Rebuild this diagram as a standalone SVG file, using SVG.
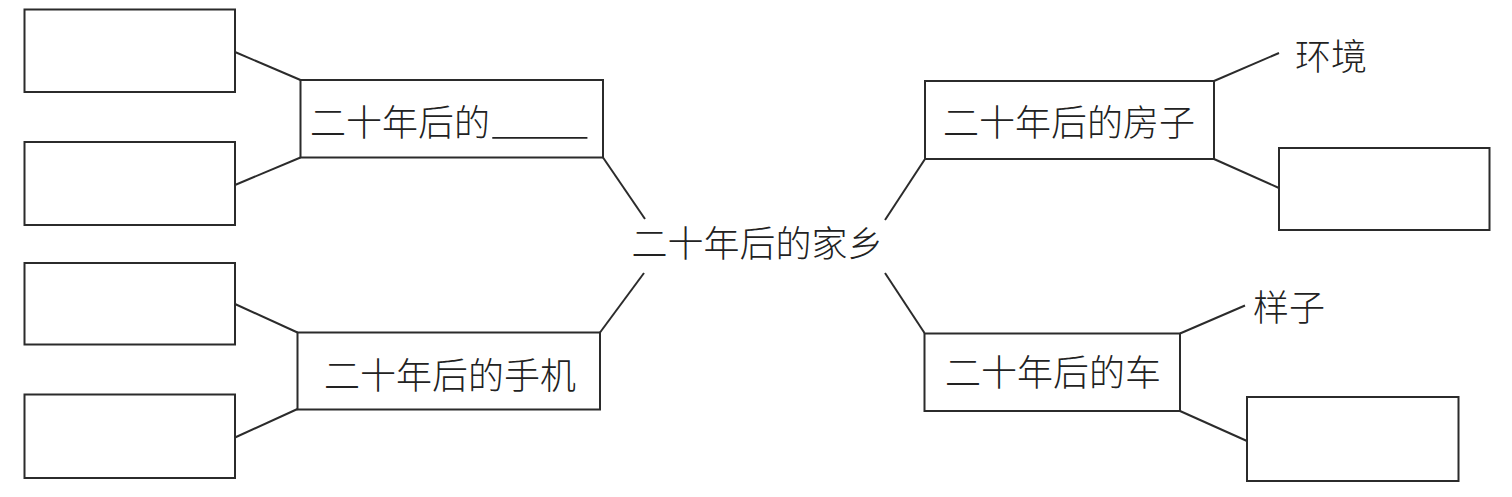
<svg xmlns="http://www.w3.org/2000/svg" width="1512" height="497" viewBox="0 0 1512 497">
<style>
.box{fill:#fff;stroke:#2b2b2b;stroke-width:2}
.ln{stroke:#2b2b2b;stroke-width:2;fill:none}
.t{font-family:"Noto Sans CJK SC","Noto Sans CJK JP",sans-serif;font-size:36px;font-weight:300;fill:#222}
.m{text-anchor:middle}
</style>
<rect width="1512" height="497" fill="#fff"/>
<g id="connectors">
<line class="ln" x1="235" y1="52" x2="300.5" y2="80"/>
<line class="ln" x1="235" y1="185" x2="300.5" y2="157.5"/>
<line class="ln" x1="235" y1="304" x2="297.5" y2="332.5"/>
<line class="ln" x1="235" y1="437.5" x2="297.5" y2="409"/>
<line class="ln" x1="603" y1="157.5" x2="645" y2="219"/>
<line class="ln" x1="600" y1="332.5" x2="644" y2="273"/>
<line class="ln" x1="925" y1="159" x2="885" y2="220"/>
<line class="ln" x1="885" y1="273" x2="924.5" y2="333"/>
<line class="ln" x1="1214" y1="81" x2="1279" y2="53"/>
<line class="ln" x1="1214" y1="159" x2="1279" y2="188"/>
<line class="ln" x1="1180" y1="333.5" x2="1245" y2="305.5"/>
<line class="ln" x1="1180" y1="411" x2="1247" y2="441"/>
</g>
<g id="center"><text class="t m" x="757.5" y="257">二十年后的家乡</text></g>
<g id="node-blank"><rect class="box" x="300.5" y="80" width="302.5" height="77.5"/><text class="t" x="310" y="136">二十年后的<tspan x="490" dy="-2" textLength="100" lengthAdjust="spacingAndGlyphs">_</tspan></text></g>
<g id="node-phone"><rect class="box" x="297.5" y="332.5" width="302.5" height="77"/><text class="t m" x="450" y="389">二十年后的手机</text></g>
<g id="node-house"><rect class="box" x="925" y="81" width="289" height="78"/><text class="t m" x="1069" y="136">二十年后的房子</text></g>
<g id="node-car"><rect class="box" x="924.5" y="333.5" width="255.5" height="77.5"/><text class="t m" x="1053" y="386">二十年后的车</text></g>
<g id="box-l1"><rect class="box" x="24.5" y="9.5" width="210.5" height="82.5"/></g>
<g id="box-l2"><rect class="box" x="24.5" y="142" width="210.5" height="83"/></g>
<g id="box-l3"><rect class="box" x="24.5" y="263" width="210.5" height="81.5"/></g>
<g id="box-l4"><rect class="box" x="24.5" y="394.5" width="210.5" height="83.5"/></g>
<g id="label-env"><text class="t m" x="1331" y="70">环境</text></g>
<g id="box-r1"><rect class="box" x="1279" y="148" width="210.5" height="82"/></g>
<g id="label-look"><text class="t m" x="1289" y="321">样子</text></g>
<g id="box-r2"><rect class="box" x="1247" y="397" width="211.5" height="84"/></g>
</svg>
